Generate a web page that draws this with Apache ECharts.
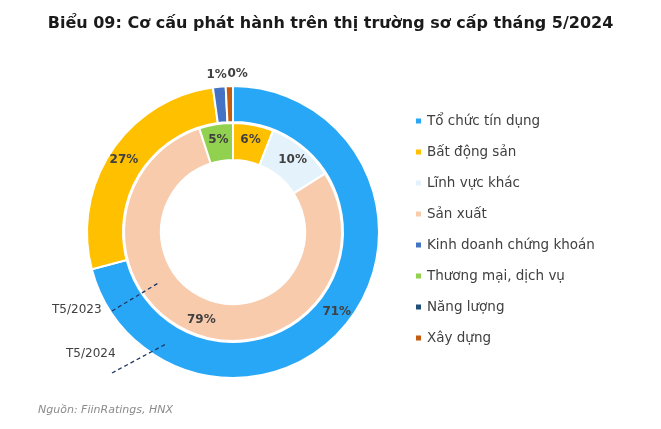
<!DOCTYPE html>
<html><head><meta charset="utf-8">
<script src="https://cdn.jsdelivr.net/npm/echarts@6/dist/echarts.min.js"></script>
<style>html,body{margin:0;background:#fff}#c{width:661px;height:429px}</style>
</head><body><div id="c"></div>
<script>
var legendNames = ['Tổ chức tín dụng', 'Bất động sản', 'Lĩnh vực khác', 'Sản xuất',
  'Kinh doanh chứng khoán', 'Thương mại, dịch vụ', 'Năng lượng', 'Xây dựng'];
var legendColors = ['#29A7F7', '#FFC000', '#E4F2FC', '#F8CBAD', '#4472C4', '#92D050', '#1F4E79', '#C55A11'];
// T5/2024 (outer ring), clockwise from top
var outerNames = ['Tổ chức tín dụng', 'Bất động sản', 'Kinh doanh chứng khoán', 'Xây dựng', 'Năng lượng'];
var outerValues = [70.9, 26.9, 1.4, 0.8, 0];
// T5/2023 (inner ring), clockwise from top
var innerNames = ['Bất động sản', 'Lĩnh vực khác', 'Sản xuất', 'Thương mại, dịch vụ'];
var innerValues = [6, 10, 79, 5];
var outerLabels = ['71%', '27%', '1%', '0%', ''];

var FONT = 'DejaVu Sans';
function colorOf(n) { return legendColors[legendNames.indexOf(n)]; }
var lbl = { fontFamily: FONT, fontSize: 12, fontWeight: 'bold', color: '#404040', position: 'inside' };

var outerData = outerNames.map(function (n, i) {
  var d = { name: n, value: outerValues[i], itemStyle: { color: colorOf(n) },
    label: { formatter: outerLabels[i] } };
  if (i === 2) d.label.offset = [-4, -27];
  if (i === 3) d.label.offset = [8, -27];
  if (outerValues[i] === 0) d.label.show = false;
  return d;
});
var innerData = innerNames.map(function (n, i) {
  return { name: n, value: innerValues[i], itemStyle: { color: colorOf(n) } };
});

var chart = echarts.init(document.getElementById('c'));
chart.setOption({
  animation: false,
  title: { text: 'Biểu 09: Cơ cấu phát hành trên thị trường sơ cấp tháng 5/2024', left: 'center', top: 11,
    textStyle: { fontFamily: FONT, fontSize: 16, fontWeight: 'bold', color: '#1a1a1a' } },
  legend: {
    orient: 'vertical', left: 409, top: 109, itemGap: 17, itemWidth: 7, itemHeight: 7, icon: 'rect',
    data: legendNames.map(function (n) { return { name: n, itemStyle: { color: colorOf(n) } }; }),
    textStyle: { fontFamily: FONT, fontSize: 13.5, color: '#404040' }
  },
  series: [
    { type: 'pie', name: 'T5/2024', center: [233, 232], radius: [110, 146], startAngle: 90, clockwise: true,
      stillShowZeroSum: false, minShowLabelAngle: 0,
      itemStyle: { borderColor: '#fff', borderWidth: 2 }, label: lbl,
      labelLine: { show: false }, data: outerData },
    { type: 'pie', name: 'T5/2023', center: [233, 232], radius: [72, 109], startAngle: 90, clockwise: true,
      itemStyle: { borderColor: '#fff', borderWidth: 2 },
      label: Object.assign({ formatter: '{c}%' }, lbl),
      labelLine: { show: false }, data: innerData }
  ],
  graphic: [
    { type: 'line', z: 100, shape: { x1: 112, y1: 311, x2: 160, y2: 282 }, style: { stroke: '#1F3864', lineWidth: 1.3, lineDash: [4, 3] } },
    { type: 'line', z: 100, shape: { x1: 112, y1: 373, x2: 166, y2: 344 }, style: { stroke: '#1F3864', lineWidth: 1.3, lineDash: [4, 3] } },
    { type: 'text', z: 100, left: 52, top: 304, style: { text: 'T5/2023', font: '12px "DejaVu Sans"', fill: '#404040' } },
    { type: 'text', z: 100, left: 66, top: 348, style: { text: 'T5/2024', font: '12px "DejaVu Sans"', fill: '#404040' } },
    { type: 'text', z: 100, left: 38, top: 405, style: { text: 'Nguồn: FiinRatings, HNX', font: 'italic 11px "DejaVu Sans"', fill: '#8c8c8c' } }
  ]
});
</script></body></html>
